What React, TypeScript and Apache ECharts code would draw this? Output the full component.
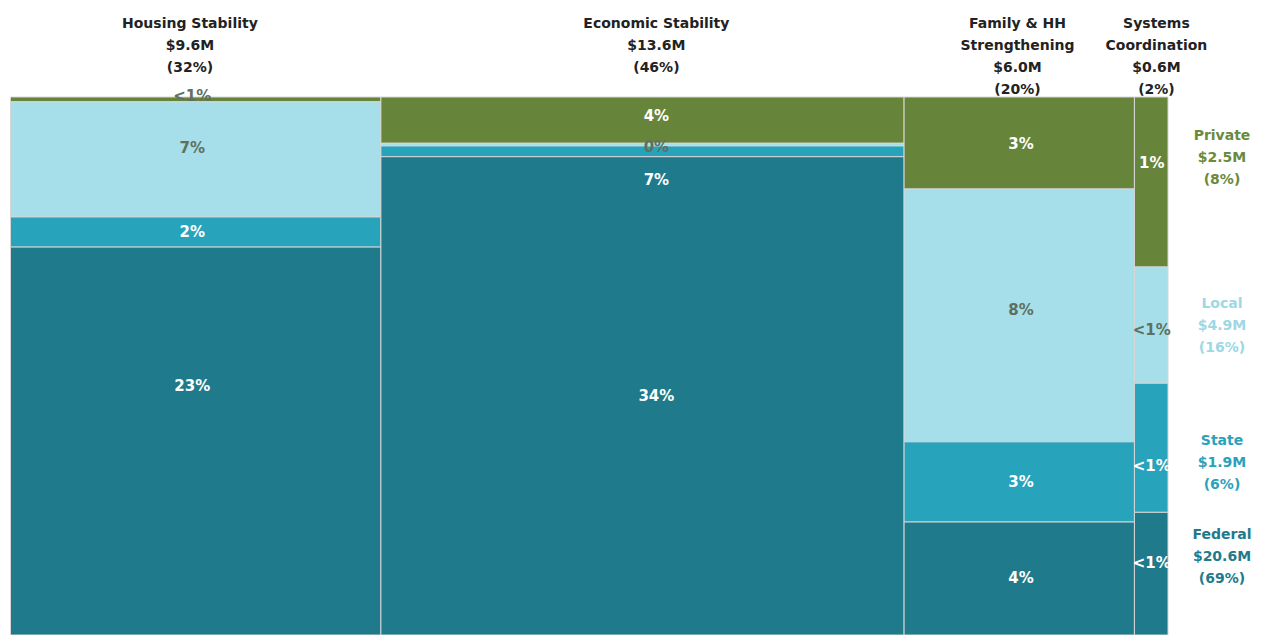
import React, { useEffect, useRef } from "react";
import * as echarts from "echarts";

// ---- data ----
const columns = ["Housing Stability", "Economic Stability", "Family & HH\nStrengthening", "Systems\nCoordination"];
const columnAmounts = ["$9.6M", "$13.6M", "$6.0M", "$0.6M"];
const columnShares = ["(32%)", "(46%)", "(20%)", "(2%)"];
// column widths as share of the total width (drawn)
const columnWidths = [32.0, 45.2, 19.9, 2.9];
// label anchor (x, in the same 0-100 units) for each column
const labelX = [15.7, 55.8, 87.3, 98.6];
const headerX = [15.5, 55.8, 87.0, 99.0];

const sources = ["Private", "Local", "State", "Federal"];
const sourceAmounts = ["$2.5M", "$4.9M", "$1.9M", "$20.6M"];
const sourceShares = ["(8%)", "(16%)", "(6%)", "(69%)"];

// segment heights (% of column height), top to bottom, one value per column
const privateHeights = [0.9, 8.6, 17.1, 31.6];
const localHeights = [21.4, 0.5, 47.0, 21.6];
const stateHeights = [5.6, 2.0, 14.9, 24.0];
const federalHeights = [72.1, 88.9, 21.0, 22.8];

// segment labels
const privateLabels = ["<1%", "4%", "3%", "1%"];
const localLabels = ["7%", "0%", "8%", "<1%"];
const stateLabels = ["2%", "7%", "3%", "<1%"];
const federalLabels = ["23%", "34%", "4%", "<1%"];

// label positions (% of column height from top)
const privateLabelY = [-0.2, 3.5, 8.7, 12.3];
const localLabelY = [9.5, 9.3, 39.6, 43.3];
const stateLabelY = [25.1, 15.4, 71.6, 68.6];
const federalLabelY = [53.7, 55.6, 89.4, 86.6];

// ---- styles ----
const COLORS = ["#67853a", "#a6dfe9", "#28a3bc", "#1f7a8b"];
const LEGEND_COLORS = ["#6a8a3c", "#9dd8e4", "#2aa2bb", "#1f7a8b"];
const FONT = "'DejaVu Sans', sans-serif";

export default function App() {
  const ref = useRef<HTMLDivElement>(null);

  useEffect(() => {
    if (!ref.current) return;
    const chart = echarts.init(ref.current, undefined, { renderer: "svg" });

    const heights = [privateHeights, localHeights, stateHeights, federalHeights];
    const labels = [privateLabels, localLabels, stateLabels, federalLabels];
    const labelYs = [privateLabelY, localLabelY, stateLabelY, federalLabelY];

    type Rect = { x0: number; x1: number; y0: number; y1: number; s: number; c: number };
    const rects: Rect[] = [];
    let xStart = 0;
    columnWidths.forEach((w, c) => {
      let yStart = 0;
      heights.forEach((h, s) => {
        rects.push({ x0: xStart, x1: xStart + w, y0: yStart, y1: yStart + h[c], s, c });
        yStart += h[c];
      });
      xStart += w;
    });

    type Lab = { x: number; y: number; text: string; color: string };
    const labs: Lab[] = [];
    columnWidths.forEach((_, c) => {
      labels.forEach((arr, s) => {
        const thin = heights[s][c] < 2 && s === 0;
        const color = s === 1 || thin ? "#5f6f62" : "#ffffff";
        labs.push({ x: labelX[c], y: labelYs[s][c], text: arr[c], color });
      });
    });

    const headers = columns.map((name, c) => ({
      x: headerX[c],
      text: `${name}\n${columnAmounts[c]}\n${columnShares[c]}`,
    }));

    const legendY = [157, 325, 462, 556];

    chart.setOption({
      animation: false,
      grid: { left: 10.5, right: 95, top: 97, bottom: 0 },
      xAxis: { type: "value", min: 0, max: 100, show: false },
      yAxis: { type: "value", min: 0, max: 100, inverse: true, show: false },
      series: [
        {
          type: "custom",
          data: rects.map((r) => [r.x0, r.y0]),
          renderItem: (params: any, api: any) => {
            const r = rects[params.dataIndex];
            const p0 = api.coord([r.x0, r.y0]);
            const p1 = api.coord([r.x1, r.y1]);
            return {
              type: "rect",
              shape: { x: p0[0], y: p0[1], width: p1[0] - p0[0], height: p1[1] - p0[1] },
              style: { fill: COLORS[r.s], stroke: "#d6d6d6", lineWidth: 1 },
            };
          },
        },
        {
          type: "custom",
          data: labs.map((l) => [l.x, l.y]),
          renderItem: (params: any, api: any) => {
            const l = labs[params.dataIndex];
            const p = api.coord([l.x, l.y]);
            return {
              type: "text",
              x: p[0],
              y: p[1],
              style: {
                text: l.text,
                fill: l.color,
                fontFamily: FONT,
                fontWeight: "bold",
                fontSize: 15,
                align: "center",
                verticalAlign: "middle",
              },
            };
          },
        },
        {
          type: "custom",
          data: headers.map((h) => [h.x, 0]),
          renderItem: (params: any, api: any) => {
            const h = headers[params.dataIndex];
            const p = api.coord([h.x, 0]);
            return {
              type: "text",
              x: p[0],
              y: 12,
              style: {
                text: h.text,
                fill: "#222222",
                fontFamily: FONT,
                fontWeight: "bold",
                fontSize: 14,
                lineHeight: 22,
                align: "center",
                verticalAlign: "top",
              },
            };
          },
        },
      ],
      graphic: sources.map((name, s) => ({
        type: "text",
        x: 1222,
        y: legendY[s],
        style: {
          text: `${name}\n${sourceAmounts[s]}\n${sourceShares[s]}`,
          fill: LEGEND_COLORS[s],
          fontFamily: FONT,
          fontWeight: "bold",
          fontSize: 14,
          lineHeight: 22,
          align: "center",
          verticalAlign: "middle",
        },
      })),
    });

    return () => chart.dispose();
  }, []);

  return (
    <div
      ref={ref}
      style={{ position: "absolute", left: 0, top: 0, width: 1263, height: 635 }}
    />
  );
}
